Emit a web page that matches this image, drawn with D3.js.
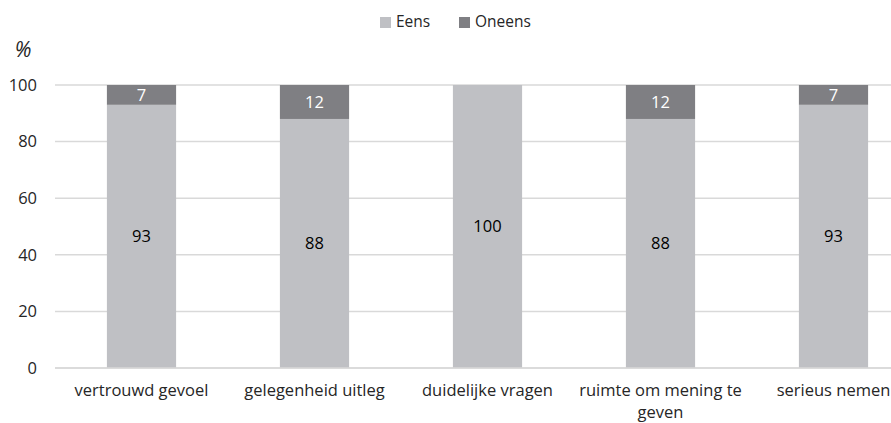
<!DOCTYPE html>
<html>
<head>
<meta charset="utf-8">
<script src="https://cdn.jsdelivr.net/npm/d3@7"></script>
<style>
  body { margin: 0; background: #fff; }
  svg { display: block; font-family: "Open Sans", Lato, sans-serif; }
</style>
</head>
<body>
<svg id="chart" width="891" height="423"></svg>
<script>
// data
var categories = ["vertrouwd gevoel", "gelegenheid uitleg", "duidelijke vragen", "ruimte om mening te geven", "serieus nemen"];
var eens = [93, 88, 100, 88, 93];
var oneens = [7, 12, 0, 12, 7];
var yTicks = [0, 20, 40, 60, 80, 100];
var seriesNames = ["Eens", "Oneens"];
var colors = ["#bfc0c4", "#7f7f83"];

var svg = d3.select("#chart");
var plotLeft = 55, plotRight = 920, plotTop = 85, plotBottom = 368;
var fs = 16.5;

var x = d3.scaleBand().domain(categories).range([plotLeft, plotRight]).paddingInner(0.6).paddingOuter(0.3);
var y = d3.scaleLinear().domain([0, 100]).range([plotBottom, plotTop]);

// gridlines
svg.append("g").selectAll("line").data(yTicks).join("line")
    .attr("x1", plotLeft).attr("x2", 891)
    .attr("y1", function (d) { return y(d); }).attr("y2", function (d) { return y(d); })
    .attr("stroke", "#d9d9d9").attr("stroke-width", 1.5);

// y labels
svg.append("g").selectAll("text").data(yTicks).join("text")
    .attr("x", 37).attr("y", function (d) { return y(d); })
    .attr("dy", "0.35em").attr("text-anchor", "end")
    .attr("font-size", fs).attr("fill", "#262626")
    .text(function (d) { return d; });

svg.append("text").attr("x", 23).attr("y", 57).attr("text-anchor", "middle")
    .attr("font-size", 21).attr("font-style", "italic").attr("fill", "#262626").text("%");

// stacked bars
var rows = categories.map(function (c, i) { return {cat: c, Eens: eens[i], Oneens: oneens[i]}; });
var stack = d3.stack().keys(seriesNames)(rows);

stack.forEach(function (layer, k) {
    var g = svg.append("g");
    g.selectAll("rect").data(layer).join("rect")
        .attr("x", function (d) { return x(d.data.cat); })
        .attr("width", x.bandwidth())
        .attr("y", function (d) { return y(d[1]); })
        .attr("height", function (d) { return y(d[0]) - y(d[1]); })
        .attr("fill", colors[k]);
    g.selectAll("text").data(layer.filter(function (d) { return d[1] - d[0] > 0; })).join("text")
        .attr("x", function (d) { return x(d.data.cat) + x.bandwidth() / 2; })
        .attr("y", function (d) { return y((d[0] + d[1]) / 2); })
        .attr("dy", "0.35em").attr("text-anchor", "middle")
        .attr("font-size", fs)
        .attr("fill", k == 0 ? "#000" : "#fff")
        .text(function (d) { return d[1] - d[0]; });
});

// baseline
svg.append("line").attr("x1", plotLeft).attr("x2", 891).attr("y1", y(0)).attr("y2", y(0))
    .attr("stroke", "#d9d9d9").attr("stroke-width", 1.5);

// category labels, wrapped like the original
var wrapped = {"ruimte om mening te geven": ["ruimte om mening te", "geven"]};
categories.forEach(function (c) {
    var lines = wrapped[c] || [c];
    lines.forEach(function (l, i) {
        svg.append("text").attr("text-anchor", "middle").attr("font-size", fs).attr("fill", "#262626")
            .attr("x", x(c) + x.bandwidth() / 2).attr("y", 396 + i * 22).text(l);
    });
});

// legend
var legend = svg.append("g");
var lx = [380, 459];
seriesNames.forEach(function (n, i) {
    legend.append("rect").attr("x", lx[i]).attr("y", 17).attr("width", 11).attr("height", 11).attr("fill", colors[i]);
    legend.append("text").attr("x", lx[i] + 16).attr("y", 22).attr("dy", "0.35em")
        .attr("font-size", 15.5).attr("fill", "#262626").text(n);
});
</script>
</body>
</html>
